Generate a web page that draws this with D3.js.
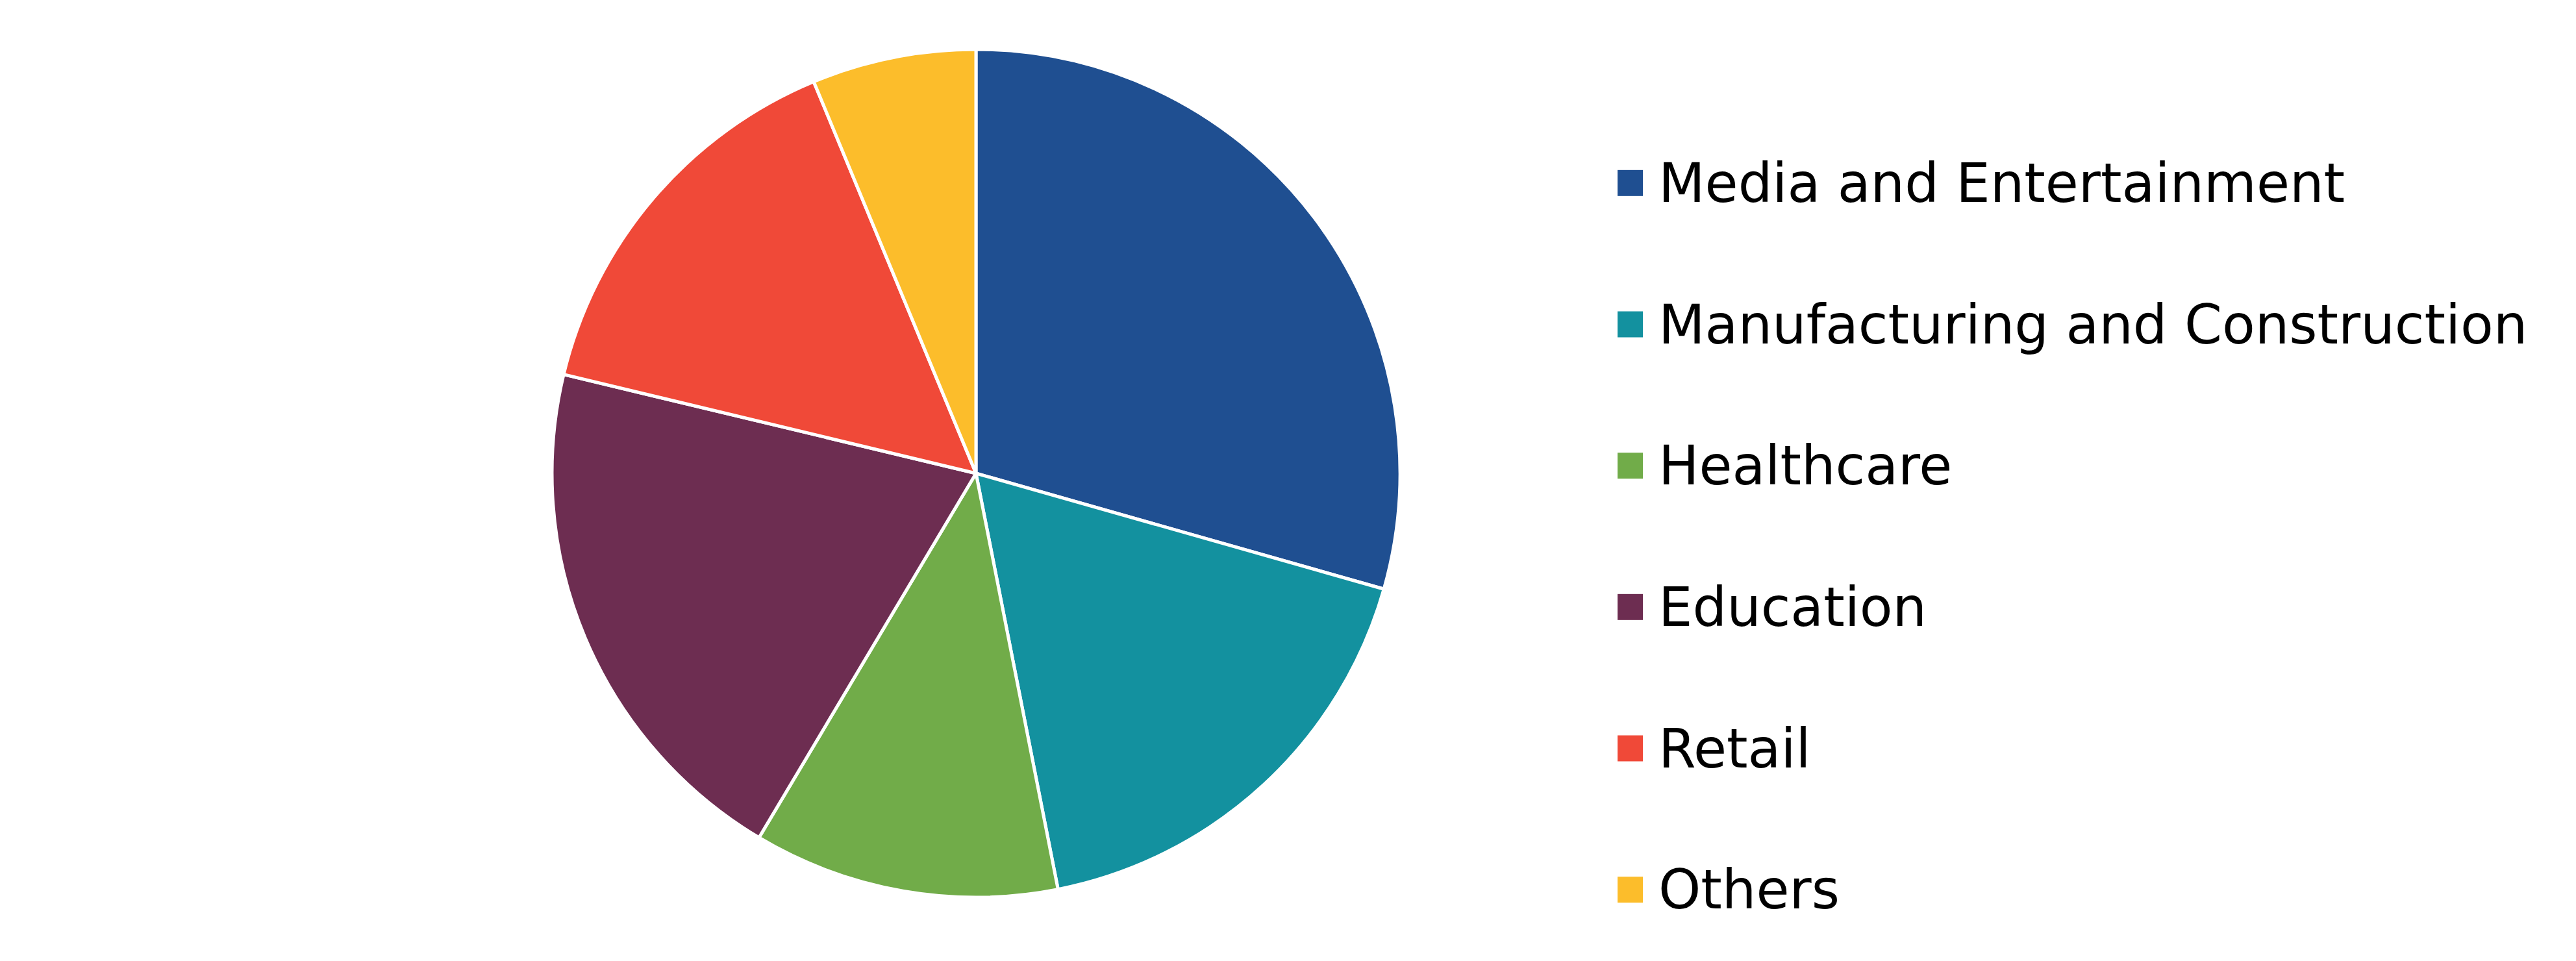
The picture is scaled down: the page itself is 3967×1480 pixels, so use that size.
<!DOCTYPE html>
<html>
<head>
<meta charset="utf-8">
<script src="https://cdn.jsdelivr.net/npm/d3@7"></script>
<style>
  html, body { margin: 0; padding: 0; background: #fff; }
  svg text { font-family: "DejaVu Sans", Verdana, sans-serif; }
</style>
</head>
<body>
<div id="chart"></div>
<script>
// shares (percent)
const categories = ['Media and Entertainment', 'Manufacturing and Construction', 'Healthcare', 'Education', 'Retail', 'Others'];
const values = [29.4, 17.5, 11.65, 20.2, 15.0, 6.25];
const colors = ['#1f4f91', '#13919f', '#71ac49', '#6d2d51', '#f04938', '#fcbd2b'];

const width = 3967;
const height = 1480;

const svg = d3.select('#chart')
  .append('svg')
  .attr('width', width)
  .attr('height', height);

const color = d3.scaleOrdinal()
  .domain(categories)
  .range(colors);

const pie = d3.pie()
  .sort(null)
  .value(d => d.value);

const arc = d3.arc()
  .innerRadius(0)
  .outerRadius(653);

const data = categories.map((c, i) => ({ name: c, value: values[i] }));

const g = svg.append('g')
  .attr('transform', 'translate(1503, 729)');

g.selectAll('path')
  .data(pie(data))
  .enter()
  .append('path')
  .attr('d', arc)
  .attr('fill', d => color(d.data.name))
  .attr('stroke', '#fff')
  .attr('stroke-width', 5)
  .attr('stroke-linejoin', 'round');

// legend, one row every ~218px
const y = d3.scaleBand()
  .domain(categories)
  .range([173, 1479]);

const legend = svg.append('g')
  .attr('transform', 'translate(2491, 0)');

const item = legend.selectAll('g')
  .data(categories)
  .enter()
  .append('g')
  .attr('transform', d => `translate(0, ${y(d) + y.bandwidth() / 2})`);

item.append('rect')
  .attr('x', 0)
  .attr('y', -20)
  .attr('width', 39)
  .attr('height', 40)
  .attr('fill', d => color(d));

item.append('text')
  .attr('x', 63)
  .attr('y', 29)
  .attr('font-size', 83)
  .attr('fill', '#000')
  .text(d => d);
</script>
</body>
</html>
